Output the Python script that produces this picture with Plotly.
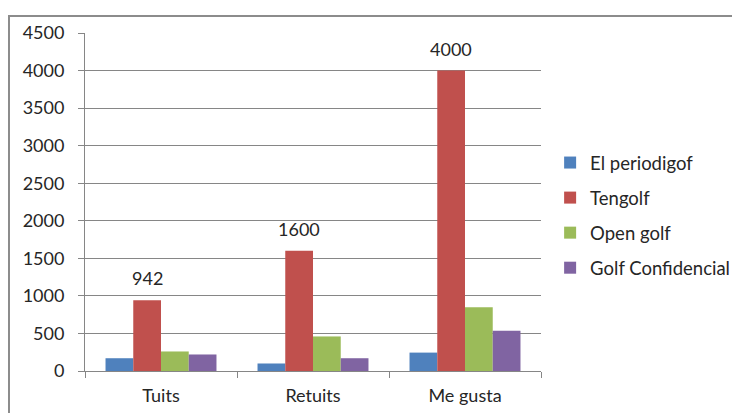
import plotly.graph_objects as go

categories = ["Tuits", "Retuits", "Me gusta"]
el_periodigof = [170, 100, 245]
tengolf = [942, 1600, 4000]
open_golf = [260, 460, 850]
golf_confidencial = [220, 170, 535]

SERIES = [
    ("El periodigof", el_periodigof, "#4F81BD"),
    ("Tengolf", tengolf, "#C0504D"),
    ("Open golf", open_golf, "#9BBB59"),
    ("Golf Confidencial", golf_confidencial, "#8064A2"),
]

FONT = "Lato, 'Open Sans', sans-serif"
TEXT = "#262626"
GRID = "#868686"

fig = go.Figure()
for name, vals, color in SERIES:
    fig.add_trace(go.Bar(
        x=categories, y=vals, name=name, legendgroup=name,
        marker=dict(color=color, line=dict(width=0)),
    ))

# data labels above the Tengolf bars (second bar of four in each group)
plot_w = 456
cat_w = plot_w / len(categories)
bargap = 0.27
bar_w = cat_w * (1 - bargap) / 4
red_offset = -bar_w / 2
for cat, v in zip(categories, tengolf):
    fig.add_annotation(
        x=cat, y=v, text=str(v), showarrow=False,
        xshift=red_offset, yshift=9, yanchor="bottom",
        font=dict(family=FONT, size=18, color=TEXT),
    )

# outer chart border
fig.add_shape(
    type="rect", xref="paper", yref="paper",
    x0=-0.1667, x1=1.6, y0=-0.3, y1=1.0503,
    line=dict(color="#8C8C8C", width=2), layer="below",
)

# page body adds 8px offset; margins compensate
fig.update_layout(
    width=740, height=413,
    paper_bgcolor="white", plot_bgcolor="white",
    barmode="group", bargap=bargap, bargroupgap=0,
    font=dict(family=FONT, size=17, color=TEXT),
    margin=dict(l=77, r=207, t=25, b=50, autoexpand=False),
    xaxis=dict(
        showgrid=False, showline=True, linecolor=GRID, linewidth=1,
        ticks="outside", tickson="boundaries", ticklen=6, tickcolor=GRID,
        tickfont=dict(size=18), ticklabelstandoff=8,
    ),
    yaxis=dict(
        range=[0, 4500], dtick=500, showgrid=True, gridcolor=GRID, gridwidth=1,
        showline=True, linecolor=GRID, linewidth=1,
        ticks="outside", ticklen=6, tickcolor=GRID, zeroline=False,
        tickfont=dict(size=18), ticklabelstandoff=10,
    ),
    legend=dict(
        x=1.02, y=0.46, yanchor="middle", xanchor="left",
        font=dict(size=18.5), itemwidth=30, tracegroupgap=8,
        bgcolor="rgba(0,0,0,0)",
    ),
)

fig.write_html("out.html")
